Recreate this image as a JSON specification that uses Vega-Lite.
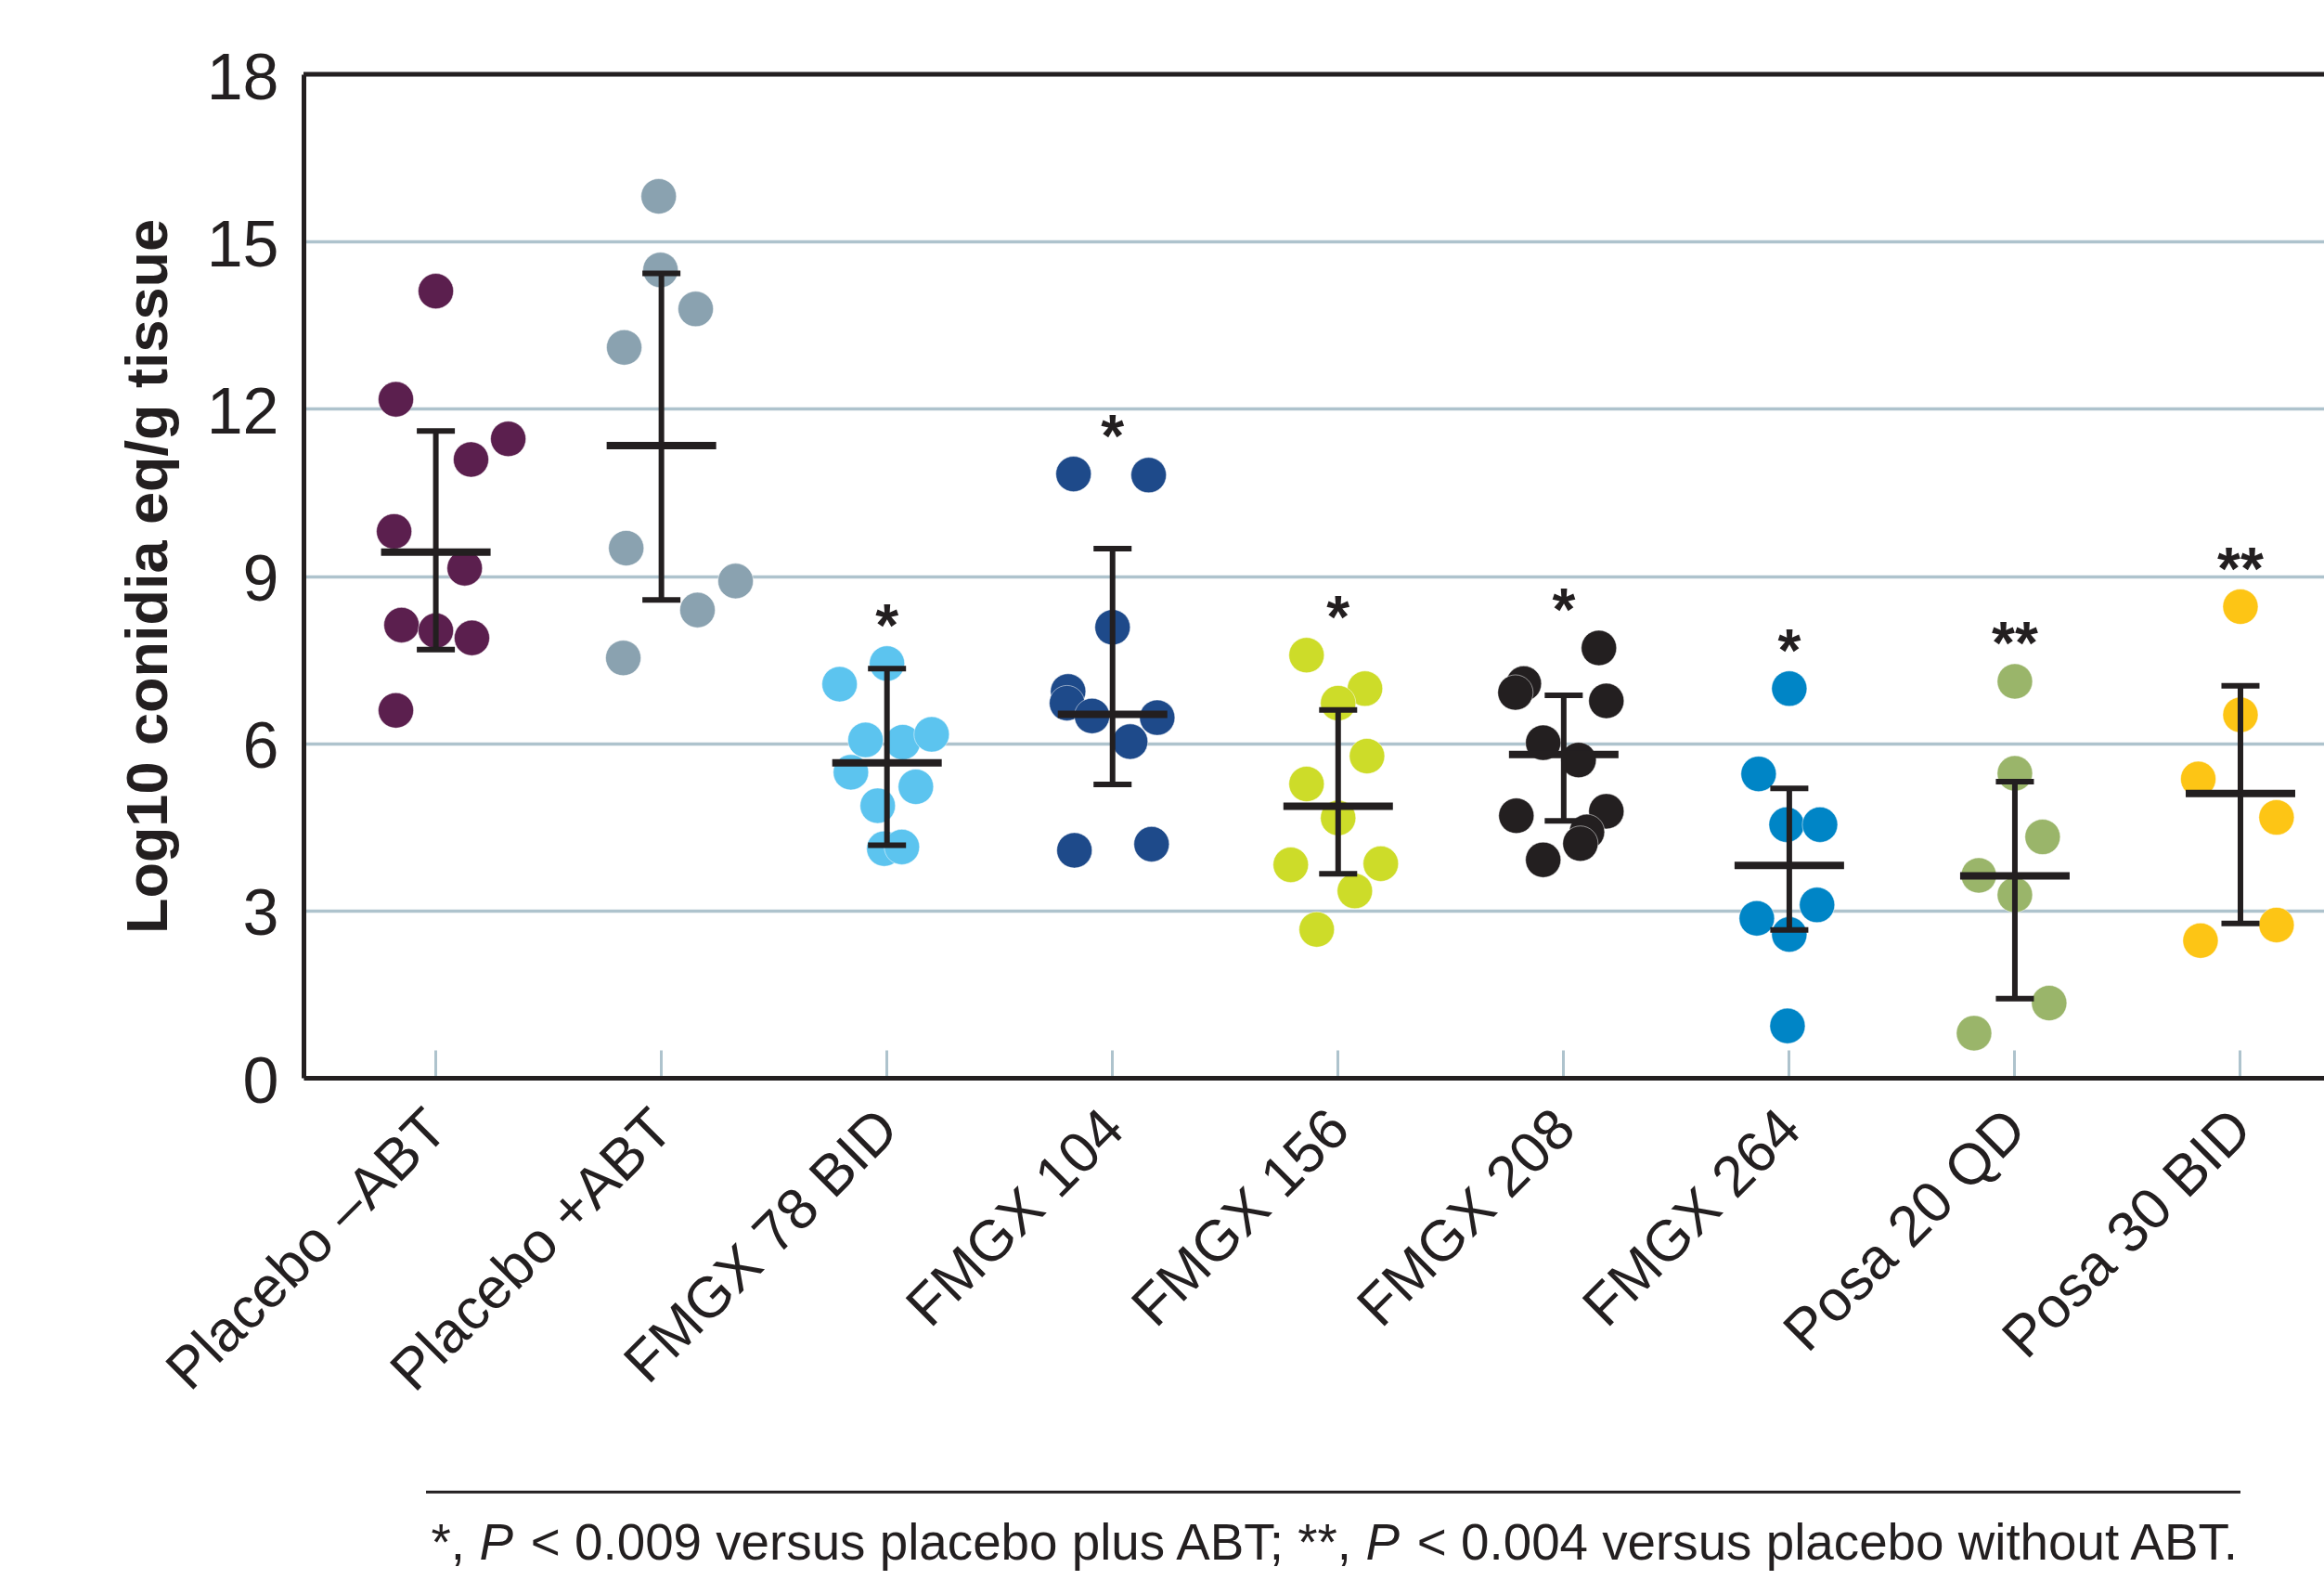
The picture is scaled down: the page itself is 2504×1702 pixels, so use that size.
{
  "$schema": "https://vega.github.io/schema/vega-lite/v6.json",
  "autosize": {"type": "none"},
  "padding": {"left": 327, "top": 80, "right": 0, "bottom": 541},
  "width": 2177,
  "height": 1081,
  "background": "white",
  "config": {
    "view": {"stroke": null},
    "font": "Liberation Sans, Arial, sans-serif"
  },
  "datasets": {
    "points": [
      {"group": "Placebo –ABT", "jitter": 0, "value": 14.11},
      {"group": "Placebo –ABT", "jitter": -0.177, "value": 12.17},
      {"group": "Placebo –ABT", "jitter": 0.321, "value": 11.46},
      {"group": "Placebo –ABT", "jitter": 0.156, "value": 11.09},
      {"group": "Placebo –ABT", "jitter": -0.185, "value": 9.8},
      {"group": "Placebo –ABT", "jitter": 0.128, "value": 9.14},
      {"group": "Placebo –ABT", "jitter": -0.152, "value": 8.12},
      {"group": "Placebo –ABT", "jitter": 0, "value": 8.02},
      {"group": "Placebo –ABT", "jitter": 0.16, "value": 7.89},
      {"group": "Placebo –ABT", "jitter": -0.177, "value": 6.59},
      {"group": "Placebo +ABT", "jitter": -0.012, "value": 15.81},
      {"group": "Placebo +ABT", "jitter": -0.004, "value": 14.49},
      {"group": "Placebo +ABT", "jitter": 0.152, "value": 13.79},
      {"group": "Placebo +ABT", "jitter": -0.165, "value": 13.1},
      {"group": "Placebo +ABT", "jitter": -0.156, "value": 9.5},
      {"group": "Placebo +ABT", "jitter": 0.329, "value": 8.91},
      {"group": "Placebo +ABT", "jitter": 0.16, "value": 8.39},
      {"group": "Placebo +ABT", "jitter": -0.169, "value": 7.53},
      {"group": "FMGX 78 BID", "jitter": -0.21, "value": 7.06},
      {"group": "FMGX 78 BID", "jitter": 0, "value": 7.43},
      {"group": "FMGX 78 BID", "jitter": -0.095, "value": 6.06},
      {"group": "FMGX 78 BID", "jitter": 0.07, "value": 6.02},
      {"group": "FMGX 78 BID", "jitter": 0.198, "value": 6.16},
      {"group": "FMGX 78 BID", "jitter": -0.16, "value": 5.48},
      {"group": "FMGX 78 BID", "jitter": 0.128, "value": 5.22},
      {"group": "FMGX 78 BID", "jitter": -0.041, "value": 4.88},
      {"group": "FMGX 78 BID", "jitter": -0.012, "value": 4.11},
      {"group": "FMGX 78 BID", "jitter": 0.066, "value": 4.14},
      {"group": "FMGX 104", "jitter": -0.173, "value": 10.83},
      {"group": "FMGX 104", "jitter": 0.16, "value": 10.81},
      {"group": "FMGX 104", "jitter": 0, "value": 8.08},
      {"group": "FMGX 104", "jitter": -0.197, "value": 6.93},
      {"group": "FMGX 104", "jitter": -0.202, "value": 6.72},
      {"group": "FMGX 104", "jitter": -0.091, "value": 6.49},
      {"group": "FMGX 104", "jitter": 0.198, "value": 6.46},
      {"group": "FMGX 104", "jitter": 0.078, "value": 6.03},
      {"group": "FMGX 104", "jitter": -0.169, "value": 4.08},
      {"group": "FMGX 104", "jitter": 0.173, "value": 4.19},
      {"group": "FMGX 156", "jitter": -0.14, "value": 7.58},
      {"group": "FMGX 156", "jitter": 0.119, "value": 6.98},
      {"group": "FMGX 156", "jitter": 0, "value": 6.72},
      {"group": "FMGX 156", "jitter": 0.128, "value": 5.77},
      {"group": "FMGX 156", "jitter": -0.14, "value": 5.27},
      {"group": "FMGX 156", "jitter": 0, "value": 4.66},
      {"group": "FMGX 156", "jitter": -0.21, "value": 3.82},
      {"group": "FMGX 156", "jitter": 0.189, "value": 3.84},
      {"group": "FMGX 156", "jitter": 0.074, "value": 3.35},
      {"group": "FMGX 156", "jitter": -0.095, "value": 2.66},
      {"group": "FMGX 208", "jitter": 0.156, "value": 7.71},
      {"group": "FMGX 208", "jitter": -0.177, "value": 7.07},
      {"group": "FMGX 208", "jitter": -0.214, "value": 6.91},
      {"group": "FMGX 208", "jitter": 0.189, "value": 6.76},
      {"group": "FMGX 208", "jitter": -0.091, "value": 6.01},
      {"group": "FMGX 208", "jitter": 0.066, "value": 5.7},
      {"group": "FMGX 208", "jitter": -0.21, "value": 4.7},
      {"group": "FMGX 208", "jitter": 0.189, "value": 4.78},
      {"group": "FMGX 208", "jitter": 0.103, "value": 4.41},
      {"group": "FMGX 208", "jitter": 0.074, "value": 4.2},
      {"group": "FMGX 208", "jitter": -0.091, "value": 3.91},
      {"group": "FMGX 264", "jitter": 0, "value": 6.98},
      {"group": "FMGX 264", "jitter": -0.136, "value": 5.45},
      {"group": "FMGX 264", "jitter": -0.012, "value": 4.54},
      {"group": "FMGX 264", "jitter": 0.136, "value": 4.54},
      {"group": "FMGX 264", "jitter": 0.123, "value": 3.1},
      {"group": "FMGX 264", "jitter": -0.144, "value": 2.86},
      {"group": "FMGX 264", "jitter": 0, "value": 2.57},
      {"group": "FMGX 264", "jitter": -0.008, "value": 0.93},
      {"group": "Posa 20 QD", "jitter": 0, "value": 7.11},
      {"group": "Posa 20 QD", "jitter": 0, "value": 5.46},
      {"group": "Posa 20 QD", "jitter": 0.123, "value": 4.32},
      {"group": "Posa 20 QD", "jitter": -0.16, "value": 3.63},
      {"group": "Posa 20 QD", "jitter": 0, "value": 3.28},
      {"group": "Posa 20 QD", "jitter": 0.152, "value": 1.34},
      {"group": "Posa 20 QD", "jitter": -0.181, "value": 0.8},
      {"group": "Posa 30 BID", "jitter": 0, "value": 8.45},
      {"group": "Posa 30 BID", "jitter": 0, "value": 6.51},
      {"group": "Posa 30 BID", "jitter": -0.187, "value": 5.36},
      {"group": "Posa 30 BID", "jitter": 0.16, "value": 4.67},
      {"group": "Posa 30 BID", "jitter": 0.16, "value": 2.74},
      {"group": "Posa 30 BID", "jitter": -0.177, "value": 2.46}
    ],
    "summary": [
      {"group": "Placebo –ABT", "mean": 9.43, "lower": 7.68, "upper": 11.6, "sig": ""},
      {"group": "Placebo +ABT", "mean": 11.34, "lower": 8.57, "upper": 14.43, "sig": ""},
      {"group": "FMGX 78 BID", "mean": 5.65, "lower": 4.17, "upper": 7.34, "sig": "*"},
      {"group": "FMGX 104", "mean": 6.52, "lower": 5.26, "upper": 9.49, "sig": "*"},
      {"group": "FMGX 156", "mean": 4.87, "lower": 3.66, "upper": 6.6, "sig": "*"},
      {"group": "FMGX 208", "mean": 5.8, "lower": 4.61, "upper": 6.86, "sig": "*"},
      {"group": "FMGX 264", "mean": 3.81, "lower": 2.65, "upper": 5.19, "sig": "*"},
      {"group": "Posa 20 QD", "mean": 3.62, "lower": 1.42, "upper": 5.31, "sig": "**"},
      {"group": "Posa 30 BID", "mean": 5.1, "lower": 2.77, "upper": 7.03, "sig": "**"}
    ],
    "note": [{}]
  },
  "layer": [
    {
      "data": {"name": "points"},
      "mark": {"type": "circle", "size": 1450, "opacity": 1, "stroke": "white", "strokeWidth": 1, "strokeOpacity": 0.5},
      "encoding": {
        "x": {
          "field": "group", "type": "nominal",
          "scale": {
            "type": "band",
            "domain": ["Placebo –ABT", "Placebo +ABT", "FMGX 78 BID", "FMGX 104", "FMGX 156", "FMGX 208", "FMGX 264", "Posa 20 QD", "Posa 30 BID"],
            "paddingInner": 0.5, "paddingOuter": 0.2285, "align": 0.7367
          },
          "axis": {
            "title": null, "labelAngle": -45, "labelAlign": "right", "labelBaseline": "middle",
            "labelFontSize": 62, "labelColor": "#231f20", "labelPadding": 75, "labelLimit": 0,
            "labelOverlap": false, "labelOffset": 2,
            "ticks": true, "tickSize": -30, "tickColor": "#aec3cd", "tickWidth": 3,
            "domain": true, "domainColor": "#231f20", "domainWidth": 5, "grid": false
          }
        },
        "xOffset": {"field": "jitter", "type": "quantitative", "scale": {"domain": [-1, 1], "range": [-182.3, 303.8], "nice": false}},
        "y": {
          "field": "value", "type": "quantitative",
          "scale": {"domain": [0, 18], "nice": false},
          "axis": {
            "values": [0, 3, 6, 9, 12, 15, 18], "format": "d",
            "grid": true, "gridColor": "#aec3cd", "gridWidth": 3.5,
            "domain": true, "domainColor": "#231f20", "domainWidth": 5,
            "ticks": false, "labelFontSize": 70, "labelColor": "#231f20", "labelPadding": 27, "labelOffset": 5,
            "title": "Log10 conidia eq/g tissue", "titleFontSize": 63, "titleFontWeight": "bold",
            "titleColor": "#231f20", "titlePadding": 30
          }
        },
        "color": {
          "field": "group", "type": "nominal", "legend": null,
          "scale": {
            "domain": ["Placebo –ABT", "Placebo +ABT", "FMGX 78 BID", "FMGX 104", "FMGX 156", "FMGX 208", "FMGX 264", "Posa 20 QD", "Posa 30 BID"],
            "range": ["#5b1f4e", "#8aa2b0", "#5cc4ef", "#1e4a8a", "#cddc29", "#231f20", "#0085c6", "#9ab56a", "#fdc515"]
          }
        }
      }
    },
    {
      "data": {"name": "note"},
      "mark": {"type": "rule", "color": "#231f20", "strokeWidth": 5},
      "encoding": {"y": {"datum": 18}}
    },
    {
      "data": {"name": "summary"},
      "mark": {"type": "rule", "color": "#231f20", "strokeWidth": 6},
      "encoding": {
        "x": {"field": "group", "type": "nominal"},
        "y": {"field": "lower", "type": "quantitative"},
        "y2": {"field": "upper"}
      }
    },
    {
      "data": {"name": "summary"},
      "mark": {"type": "tick", "color": "#231f20", "size": 41, "thickness": 6, "opacity": 1},
      "encoding": {
        "x": {"field": "group", "type": "nominal"},
        "y": {"field": "lower", "type": "quantitative"}
      }
    },
    {
      "data": {"name": "summary"},
      "mark": {"type": "tick", "color": "#231f20", "size": 41, "thickness": 6, "opacity": 1},
      "encoding": {
        "x": {"field": "group", "type": "nominal"},
        "y": {"field": "upper", "type": "quantitative"}
      }
    },
    {
      "data": {"name": "summary"},
      "mark": {"type": "tick", "color": "#231f20", "size": 118, "thickness": 8, "opacity": 1},
      "encoding": {
        "x": {"field": "group", "type": "nominal"},
        "y": {"field": "mean", "type": "quantitative"}
      }
    },
    {
      "data": {"name": "points"},
      "transform": [
        {"aggregate": [{"op": "max", "field": "value", "as": "top"}], "groupby": ["group"]},
        {"lookup": "group", "from": {"data": {"name": "summary"}, "key": "group", "fields": ["sig"]}},
        {"filter": "datum.sig != ''"}
      ],
      "mark": {"type": "text", "fontSize": 64, "fontWeight": "bold", "color": "#231f20", "baseline": "alphabetic", "dy": -19},
      "encoding": {
        "x": {"field": "group", "type": "nominal"},
        "y": {"field": "top", "type": "quantitative"},
        "text": {"field": "sig"}
      }
    },
    {
      "data": {"name": "note"},
      "mark": {"type": "rule", "color": "#231f20", "strokeWidth": 3},
      "encoding": {
        "x": {"datum": "Placebo –ABT", "bandPosition": 0.413},
        "x2": {"datum": "Posa 30 BID"},
        "y": {"datum": -7.43}
      }
    },
    {
      "data": {"name": "note"},
      "mark": {"type": "text", "fontSize": 54.75, "color": "#231f20", "align": "right", "baseline": "alphabetic", "dx": -3},
      "encoding": {
        "x": {"datum": "Posa 30 BID"},
        "y": {"datum": -8.64},
        "text": {"value": "< 0.004 versus placebo without ABT."}
      }
    },
    {
      "data": {"name": "note"},
      "mark": {"type": "text", "fontSize": 54.75, "fontStyle": "italic", "color": "#231f20", "align": "right", "baseline": "alphabetic", "dx": -906},
      "encoding": {
        "x": {"datum": "Posa 30 BID"},
        "y": {"datum": -8.64},
        "text": {"value": "P"}
      }
    },
    {
      "data": {"name": "note"},
      "mark": {"type": "text", "fontSize": 54.75, "color": "#231f20", "align": "right", "baseline": "alphabetic", "dx": -958},
      "encoding": {
        "x": {"datum": "Posa 30 BID"},
        "y": {"datum": -8.64},
        "text": {"value": "< 0.009 versus placebo plus ABT; **,"}
      }
    },
    {
      "data": {"name": "note"},
      "mark": {"type": "text", "fontSize": 54.75, "fontStyle": "italic", "color": "#231f20", "align": "right", "baseline": "alphabetic", "dx": -1861},
      "encoding": {
        "x": {"datum": "Posa 30 BID"},
        "y": {"datum": -8.64},
        "text": {"value": "P"}
      }
    },
    {
      "data": {"name": "note"},
      "mark": {"type": "text", "fontSize": 54.75, "color": "#231f20", "align": "right", "baseline": "alphabetic", "dx": -1913},
      "encoding": {
        "x": {"datum": "Posa 30 BID"},
        "y": {"datum": -8.64},
        "text": {"value": "*,"}
      }
    }
  ]
}
